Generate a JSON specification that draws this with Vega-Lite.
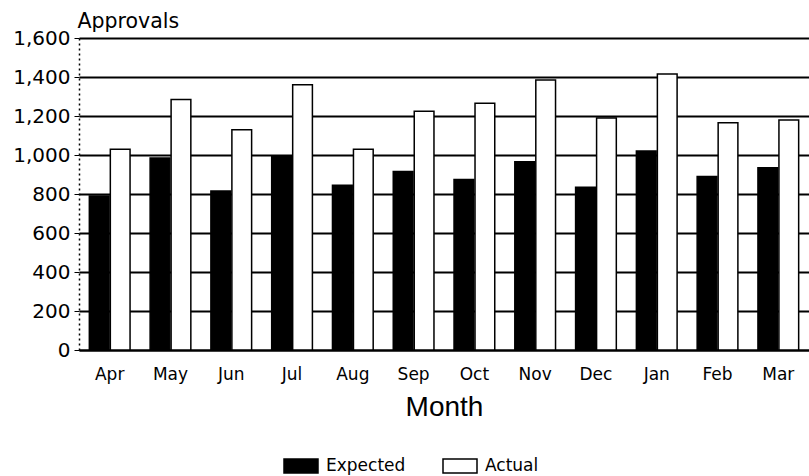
{
  "$schema": "https://vega.github.io/schema/vega-lite/v6.json",
  "width": 730,
  "height": 312,
  "autosize": "none",
  "padding": {"left": 79, "top": 38, "right": 0, "bottom": 126},
  "background": "white",
  "data": {
    "values": [
      {"month": "Apr", "series": "Expected", "value": 790},
      {"month": "Apr", "series": "Actual", "value": 1030},
      {"month": "May", "series": "Expected", "value": 985},
      {"month": "May", "series": "Actual", "value": 1285},
      {"month": "Jun", "series": "Expected", "value": 815},
      {"month": "Jun", "series": "Actual", "value": 1130},
      {"month": "Jul", "series": "Expected", "value": 995},
      {"month": "Jul", "series": "Actual", "value": 1360},
      {"month": "Aug", "series": "Expected", "value": 845},
      {"month": "Aug", "series": "Actual", "value": 1030},
      {"month": "Sep", "series": "Expected", "value": 915},
      {"month": "Sep", "series": "Actual", "value": 1225},
      {"month": "Oct", "series": "Expected", "value": 875},
      {"month": "Oct", "series": "Actual", "value": 1265},
      {"month": "Nov", "series": "Expected", "value": 965},
      {"month": "Nov", "series": "Actual", "value": 1385},
      {"month": "Dec", "series": "Expected", "value": 835},
      {"month": "Dec", "series": "Actual", "value": 1190},
      {"month": "Jan", "series": "Expected", "value": 1020},
      {"month": "Jan", "series": "Actual", "value": 1415},
      {"month": "Feb", "series": "Expected", "value": 890},
      {"month": "Feb", "series": "Actual", "value": 1165},
      {"month": "Mar", "series": "Expected", "value": 935},
      {"month": "Mar", "series": "Actual", "value": 1180}
    ]
  },
  "config": {
    "font": "DejaVu Sans",
    "view": {"stroke": null}
  },
  "mark": {"type": "bar", "stroke": "black", "strokeWidth": 1.5},
  "encoding": {
    "x": {
      "field": "month",
      "type": "nominal",
      "sort": ["Apr", "May", "Jun", "Jul", "Aug", "Sep", "Oct", "Nov", "Dec", "Jan", "Feb", "Mar"],
      "scale": {"paddingInner": 0.33, "paddingOuter": 0.17},
      "axis": {
        "title": "Month",
        "titleFont": "Liberation Sans",
        "titleFontSize": 28,
        "titleFontWeight": "normal",
        "titleColor": "black",
        "titlePadding": 11,
        "labelAngle": 0,
        "labelFontSize": 17,
        "labelColor": "black",
        "labelPadding": 16,
        "ticks": false,
        "domainColor": "black",
        "domainWidth": 2,
        "grid": false
      }
    },
    "xOffset": {
      "field": "series",
      "type": "nominal",
      "sort": ["Expected", "Actual"],
      "scale": {"paddingInner": 0.06}
    },
    "y": {
      "field": "value",
      "type": "quantitative",
      "scale": {"domain": [0, 1600], "nice": false},
      "axis": {
        "values": [0, 200, 400, 600, 800, 1000, 1200, 1400, 1600],
        "format": ",.0f",
        "title": "Approvals",
        "titleAngle": 0,
        "titleAlign": "left",
        "titleBaseline": "alphabetic",
        "titleX": -2,
        "titleY": -11,
        "titleFontSize": 20.5,
        "titleFontWeight": "normal",
        "titleColor": "black",
        "labelFontSize": 20,
        "labelColor": "black",
        "labelPadding": 4,
        "tickColor": "black",
        "tickSize": 5,
        "domainColor": "black",
        "domainDash": [2, 3],
        "domainWidth": 1.5,
        "grid": true,
        "gridColor": "black",
        "gridWidth": 2,
        "gridOpacity": 1
      }
    },
    "fill": {
      "field": "series",
      "type": "nominal",
      "sort": ["Expected", "Actual"],
      "scale": {"domain": ["Expected", "Actual"], "range": ["black", "white"]},
      "legend": {
        "title": null,
        "orient": "none",
        "direction": "horizontal",
        "legendX": 204,
        "legendY": 410,
        "labelFontSize": 17,
        "labelColor": "black",
        "symbolType": "M-1,-0.41L1,-0.41L1,0.41L-1,0.41Z",
        "symbolSize": 1156,
        "symbolStrokeColor": "black",
        "symbolStrokeWidth": 1.5,
        "columnPadding": 34,
        "labelOffset": 7
      }
    }
  }
}
